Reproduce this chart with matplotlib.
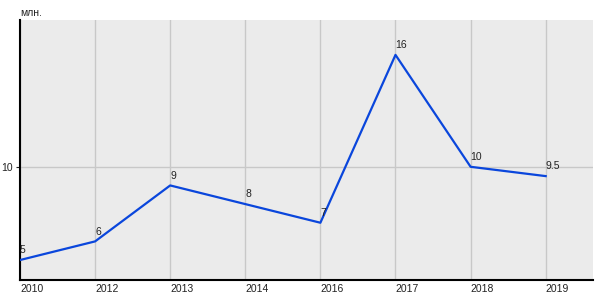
import matplotlib
matplotlib.use('Agg')
import matplotlib.pyplot as plt

"""data"""
years = ['2010', '2012', '2013', '2014', '2016', '2017', '2018', '2019']
values = [5, 6, 9, 8, 7, 16, 10, 9.5]
value_labels = ['5', '6', '9', '8', '7', '16', '10', '9.5']
y_ticks = [10]
unit = 'млн.'

plt.rcParams['font.family'] = ['Liberation Sans', 'DejaVu Sans']

fig = plt.figure(figsize=(6, 3), dpi=100)
ax = fig.add_axes([20/600, 20/300, 573/600, 260/300])
ax.set_facecolor('#ebebeb')

x = list(range(len(years)))
ax.plot(x, values, color='#0a46dc', linewidth=1.6, zorder=3)
for xi, v, t in zip(x, values, value_labels):
    ax.annotate(t, (xi, v), xytext=(0, 3.5), textcoords='offset points',
                fontsize=7.5, color='#222222', ha='left', va='bottom')

ax.set_xlim(0, 7.63)
ax.set_ylim(3.93, 17.87)
ax.set_xticks(x)
ax.set_xticklabels(years, fontsize=7.5, ha='left')
ax.set_yticks(y_ticks)
ax.set_yticklabels([str(t) for t in y_ticks], fontsize=7.5)
ax.tick_params(axis='x', length=0, pad=3, colors='#222222')
ax.tick_params(axis='y', length=3, width=0.8, pad=2, colors='#222222')
ax.grid(True, color='#c8c8c8', linewidth=1)
ax.set_axisbelow(True)
for s in ['top', 'right']:
    ax.spines[s].set_visible(False)
for s in ['left', 'bottom']:
    ax.spines[s].set_color('black')
    ax.spines[s].set_linewidth(1.5)

fig.text(20/600, 1 - 13/300, unit, fontsize=7.5, ha='left', va='center', color='#222222')

plt.savefig('out.png', dpi=100)
